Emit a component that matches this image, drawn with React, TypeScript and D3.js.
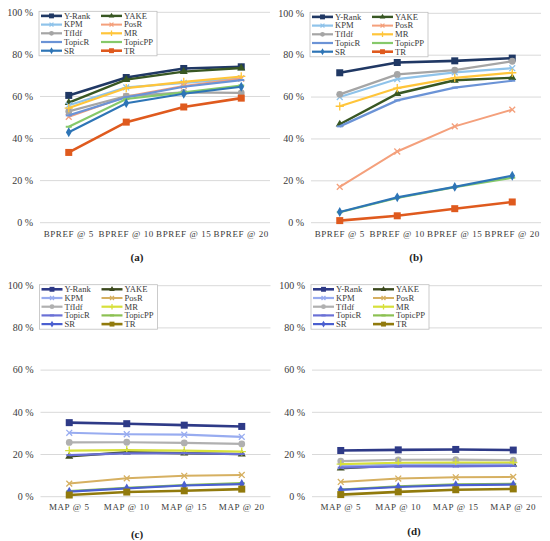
import * as d3 from "d3";
import { useEffect } from "react";

const methods = ["Y-Rank", "YAKE", "KPM", "PosR", "TfIdf", "MR", "TopicR", "TopicPP", "SR", "TR"];
const bprefLabels = ["BPREF @ 5", "BPREF @ 10", "BPREF @ 15", "BPREF @ 20"];
const mapLabels = ["MAP @ 5", "MAP @ 10", "MAP @ 15", "MAP @ 20"];
const yTicks = [0, 20, 40, 60, 80, 100];

// values per method, in the order of `methods`
const panelA = [
  [60.5, 69, 73.3, 74.1],
  [57.1, 68, 71.8, 73.5],
  [55.8, 64.3, 66.4, 68.6],
  [50.3, 60, 65, 68.5],
  [52.9, 60.2, 61.9, 61.7],
  [54.5, 64, 66.9, 69.5],
  [51, 59.6, 64.6, 67.8],
  [45.6, 58.8, 61.9, 65.2],
  [43, 56.8, 61.3, 64.6],
  [33.4, 47.8, 55, 59.2],
];
const panelB = [
  [71.6, 76.5, 77.3, 78.6],
  [47, 61.6, 68, 69.2],
  [60, 68.6, 71.8, 73.8],
  [17.1, 34, 46, 54],
  [61.3, 70.8, 72.9, 77.1],
  [55.6, 64.3, 69.2, 71.6],
  [46, 58.4, 64.5, 67.8],
  [5, 11.8, 17, 21.5],
  [5.1, 12.1, 17.1, 22.4],
  [1, 3.3, 6.7, 9.9],
];
const panelC = [
  [35.1, 34.6, 33.9, 33.3],
  [19.1, 21.1, 20.6, 20.2],
  [30.3, 29.6, 29.4, 28.4],
  [6.2, 8.7, 9.9, 10.3],
  [25.7, 25.8, 25.5, 25],
  [21.8, 22.1, 21.8, 21.4],
  [19.7, 20.5, 20.6, 20.2],
  [2.6, 4.2, 5.5, 6.4],
  [2.4, 3.9, 5.3, 6.0],
  [0.8, 2.2, 2.8, 3.6],
];
const panelD = [
  [21.9, 22.2, 22.4, 22.1],
  [13.5, 14.9, 15.2, 15.3],
  [14.5, 15.2, 15.3, 15.4],
  [7, 8.6, 9.2, 9.4],
  [16.9, 17.5, 17.6, 17.3],
  [15.4, 16.1, 16.2, 16.2],
  [13.8, 14.4, 14.4, 14.6],
  [3.4, 4.9, 5.8, 6.1],
  [3.2, 4.6, 5.5, 5.7],
  [1, 2.3, 3.3, 3.7],
];

const markers = ["square", "triangle", "times", "times", "circle", "plus", "dash", "dash", "diamond", "square"];
const widths = [2.6, 2.4, 2.2, 2, 2.2, 2.2, 2.2, 2.2, 2.2, 2.6];
const colorsTop = ["#203864", "#385723", "#8fc3ea", "#f4a07c", "#a5a5a5", "#ffc53a", "#6b93d6", "#86c96a", "#2e75b6", "#df5a1e"];
const colorsBottom = ["#2e3a87", "#3d4a1e", "#98acf0", "#d6b061", "#b0b0b0", "#d7e03a", "#6a70d6", "#8cc152", "#4a5fd0", "#917a0c"];

const font = "'Liberation Serif', 'Times New Roman', serif";

function Marker({ type, x, y, color, big }: { type: string; x: number; y: number; color: string; big: boolean }) {
  const s = big ? 1 : 0.7;
  if (type === "square") {
    const w = 7 * s;
    return <rect x={x - w / 2} y={y - w / 2} width={w} height={w} fill={color} />;
  }
  if (type === "circle") return <circle cx={x} cy={y} r={3.4 * s} fill={color} />;
  if (type === "dash") return <line x1={x - 3 * s} x2={x + 3 * s} y1={y} y2={y} stroke={color} strokeWidth={2} />;
  const sym =
    type === "triangle" ? d3.symbolTriangle
      : type === "diamond" ? d3.symbolDiamond
        : type === "plus" ? d3.symbolPlus
          : d3.symbolTimes;
  const size = (type === "triangle" || type === "diamond" ? 28 : 24) * s * s;
  const d = d3.symbol(sym, size)() || "";
  const stroked = type === "plus" || type === "times";
  return (
    <path
      d={d}
      transform={`translate(${x},${y})`}
      fill={stroked ? "none" : color}
      stroke={color}
      strokeWidth={stroked ? 1.3 : 0}
    />
  );
}

interface PanelProps {
  values: number[][];
  labels: string[];
  colors: string[];
  x0: number;
  x1: number;
  yTop: number;
  yBot: number;
  tickY: number;
  caption: string;
  capX: number;
  capY: number;
}

function Panel({ values, labels, colors, x0, x1, yTop, yBot, tickY, caption, capX, capY }: PanelProps) {
  const x = d3.scaleBand<string>().domain(labels).range([x0, x1]);
  const y = d3.scaleLinear().domain([0, 100]).range([yBot, yTop]);
  const cx = (l: string) => (x(l) ?? 0) + x.bandwidth() / 2;
  const line = d3
    .line<number>()
    .x((_, i) => cx(labels[i]))
    .y((d) => y(d));

  const legX = x0;
  const legY = yTop;
  const rowH = 8.7;

  return (
    <g>
      {yTicks.map((t) => (
        <g key={t}>
          <line x1={x0} x2={x1} y1={y(t)} y2={y(t)} stroke="#d9d9d9" strokeWidth={1} />
          <text x={x0 - 7} y={y(t)} dy="0.33em" textAnchor="end" fontSize={10} fill="#3a3a3a" fontFamily={font}>
            {`${t} %`}
          </text>
        </g>
      ))}
      {labels.map((l) => (
        <text key={l} x={cx(l)} y={tickY} textAnchor="middle" fontSize={9} letterSpacing={0.6} fill="#3a3a3a" fontFamily={font}>
          {l}
        </text>
      ))}
      {values.map((vals, k) => (
        <g key={methods[k]}>
          <path d={line(vals) || ""} fill="none" stroke={colors[k]} strokeWidth={widths[k]} />
          {vals.map((v, i) => (
            <Marker key={i} type={markers[k]} x={cx(labels[i])} y={y(v)} color={colors[k]} big={true} />
          ))}
        </g>
      ))}
      <rect x={legX - 1} y={legY - 1} width={118} height={44.5} fill="white" stroke="#bfbfbf" strokeWidth={0.8} />
      {methods.map((m, k) => {
        const col = k % 2;
        const row = Math.floor(k / 2);
        const lx = legX + (col === 0 ? 1 : 61);
        const ly = legY + 3.6 + row * rowH;
        return (
          <g key={m}>
            <line x1={lx} x2={lx + 21} y1={ly} y2={ly} stroke={colors[k]} strokeWidth={widths[k]} />
            <Marker type={markers[k]} x={lx + 10.5} y={ly} color={colors[k]} big={false} />
            <text x={lx + 23} y={ly} dy="0.33em" fontSize={8.6} fill="#3a3a3a" fontFamily={font}>
              {m}
            </text>
          </g>
        );
      })}
      <text x={capX} y={capY} textAnchor="middle" fontSize={11} fontWeight="bold" fill="#222" fontFamily={font}>
        {caption}
      </text>
    </g>
  );
}

export default function App() {
  useEffect(() => {
    document.body.style.margin = "0";
  }, []);
  return (
    <svg width={550} height={541} style={{ display: "block", background: "white" }}>
      <Panel values={panelA} labels={bprefLabels} colors={colorsTop} x0={40} x1={270} yTop={12.3} yBot={222.7} tickY={237} caption="(a)" capX={137} capY={261} />
      <Panel values={panelB} labels={bprefLabels} colors={colorsTop} x0={311} x1={541} yTop={13.3} yBot={222.7} tickY={237} caption="(b)" capX={416} capY={261} />
      <Panel values={panelC} labels={mapLabels} colors={colorsBottom} x0={40.5} x1={270.5} yTop={285.7} yBot={496.7} tickY={510} caption="(c)" capX={137} capY={538} />
      <Panel values={panelD} labels={mapLabels} colors={colorsBottom} x0={312} x1={542} yTop={285.7} yBot={496.7} tickY={510} caption="(d)" capX={414} capY={535} />
    </svg>
  );
}
